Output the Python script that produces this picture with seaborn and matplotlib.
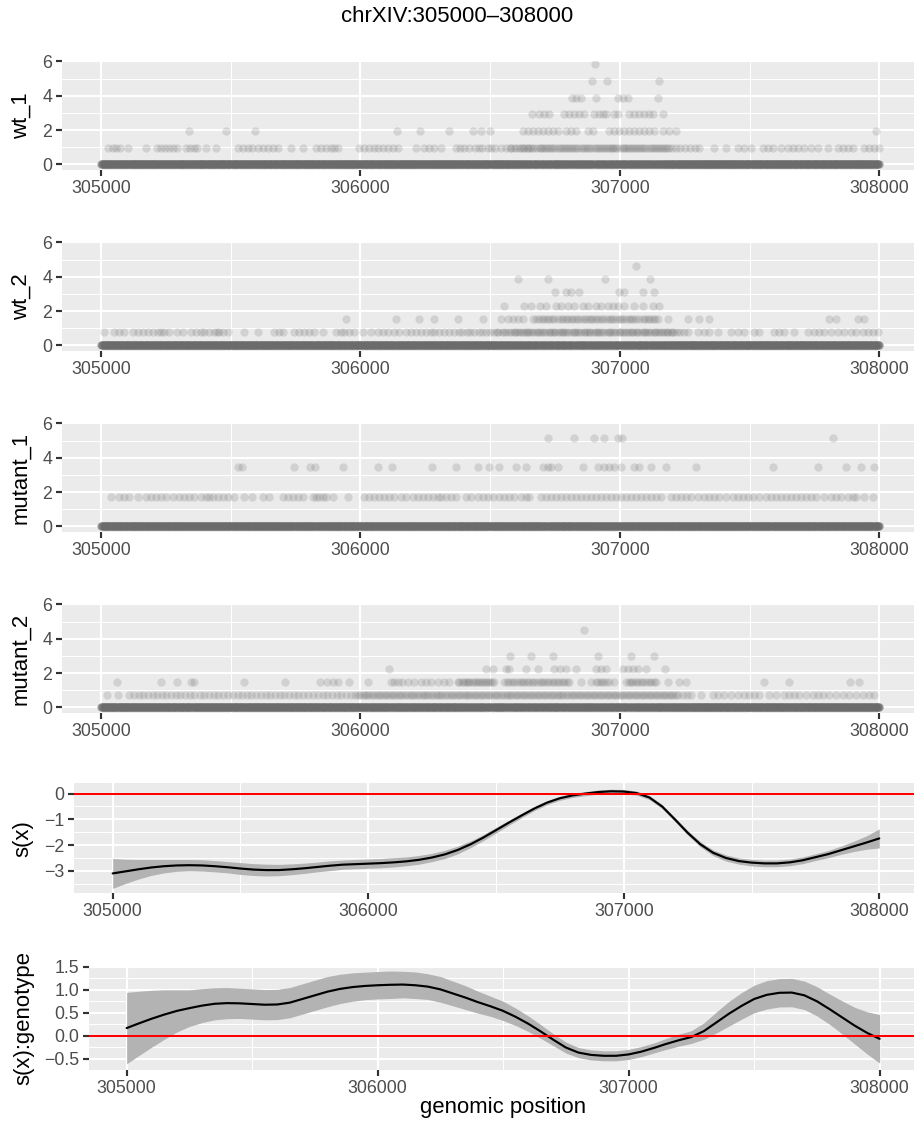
import numpy as np
import pandas as pd
import matplotlib
matplotlib.use("Agg")
import matplotlib.pyplot as plt
import seaborn as sns

# ---------------- data ----------------
region_start, region_end = 305000, 308000
title_text = "chrXIV:305000\u2013308000"
x_ticks = [305000, 306000, 307000, 308000]

# normalised count per read (height of one level)
wt1_scale = 0.97
wt2_scale = 0.775
mut1_scale = 1.72
mut2_scale = 0.754

wt1_lv1 = [305028, 305045, 305060, 305074, 305103, 305173, 305216, 305231, 305248, 305263, 305279, 305295,
           305328, 305344, 305360, 305372, 305405, 305443, 305527, 305546, 305565, 305584, 305604, 305623,
           305642, 305662, 305681, 305732, 305777, 305828, 305848, 305867, 305886, 305899, 305915, 305995,
           306015, 306034, 306051, 306066, 306085, 306105, 306124, 306143, 306214, 306246, 306265, 306285,
           306310, 306368, 306385, 306400, 306420, 306440, 306455, 306470, 306490, 306505, 306520, 306540,
           306560, 306575, 306590, 306610, 306625, 306640, 306655, 306670, 306690, 306705, 306720, 306735,
           306750, 306770, 306785, 306800, 306815, 306830, 306850, 306865, 306880, 306900, 306915, 306930,
           306945, 306960, 306975, 306990, 307010, 307025, 307040, 307055, 307070, 307085, 307100, 307120,
           307135, 307150, 307165, 307180, 307200, 307215, 307230, 307250, 307270, 307290, 307305, 307364,
           307409, 307454, 307479, 307505, 307550, 307569, 307589, 307621, 307646, 307666, 307685, 307711,
           307736, 307762, 307800, 307839, 307858, 307878, 307897, 307942, 307961, 307980, 308000]
wt1_lv1b = [306582, 306598, 306617, 306632, 306647, 306662, 306680, 306697, 306712, 306727, 306742, 306760,
            306777, 306792, 306808, 306822, 306840, 306857, 306872, 306890, 306907, 306922, 306937, 306952,
            306968, 306982, 307000, 307017, 307032, 307047, 307062, 307077, 307092, 307110, 307127, 307142,
            307157, 307172, 307190]
wt1_lv2 = [305340, 305482, 305593, 306141, 306231, 306342, 306432, 306465, 306500, 306625, 306644, 306664,
           306683, 306702, 306722, 306741, 306760, 306792, 306811, 306831, 306876, 306895, 306959, 306978,
           306998, 307017, 307036, 307055, 307075, 307094, 307113, 307133, 307165, 307190, 307216, 307987]
wt1_lv3 = [306661, 306689, 306709, 306728, 306786, 306805, 306824, 306844, 306863, 306901, 306921, 306933,
           306946, 306978, 306991, 307036, 307055, 307075, 307094, 307113, 307126, 307165]
wt1_lv4 = [306814, 306831, 306850, 306908, 306991, 307010, 307030, 307148]
wt1_lv5 = [306891, 306949, 307149]
wt1_lv6 = [306905]

wt2_lv1 = [305013, 305051, 305071, 305090, 305122, 305141, 305161, 305180, 305199, 305218, 305231, 305244,
           305263, 305295, 305315, 305347, 305366, 305385, 305398, 305417, 305437, 305447, 305456, 305469,
           305488, 305552, 305604, 305668, 305687, 305700, 305745, 305764, 305784, 305803, 305822, 305854,
           305906, 305925, 305938, 305957, 305976, 306008, 306040, 306066, 306085, 306105, 306130, 306150,
           306175, 306195, 306214, 306233, 306252, 306272, 306285, 306304, 306323, 306342, 306362, 306378,
           306391, 306410, 306424, 306437, 306455, 306469, 306482, 306500, 306514, 306527, 306545, 306560,
           306572, 306590, 306604, 306619, 306635, 306647, 306662, 306680, 306692, 306707, 306725, 306737,
           306751, 306768, 306782, 306797, 306815, 306827, 306842, 306860, 306872, 306886, 306905, 306917,
           306931, 306950, 306962, 306977, 306995, 307007, 307022, 307040, 307052, 307067, 307085, 307097,
           307112, 307130, 307142, 307157, 307175, 307187, 307202, 307220, 307233, 307248, 307261, 307299,
           307325, 307344, 307377, 307428, 307454, 307479, 307518, 307537, 307595, 307614, 307634, 307672,
           307723, 307749, 307768, 307788, 307813, 307839, 307865, 307890, 307910, 307935, 307955, 307974,
           307993]
wt2_lv1b = [306530, 306552, 306580, 306597, 306612, 306627, 306641, 306655, 306670, 306686, 306700, 306715,
            306731, 306745, 306760, 306775, 306790, 306805, 306821, 306835, 306850, 306866, 306880, 306895,
            306911, 306925, 306940, 306956, 306970, 306985, 307001, 307015, 307030, 307046, 307060, 307075,
            307091, 307105, 307120, 307136, 307150, 307165, 307181, 307195, 307210]
wt2_lv2 = [305944, 306137, 306227, 306285, 306375, 306471, 306542, 306567, 306587, 306606, 306625, 306664,
           306689, 306709, 306728, 306747, 306773, 306792, 306811, 306831, 306850, 306869, 306889, 306908,
           306927, 306946, 306966, 306985, 307004, 307023, 307043, 307062, 307088, 307107, 307126, 307145,
           307184, 307261, 307306, 307344, 307807, 307833, 307916, 307942]
wt2_lv2b = [306676, 306699, 306718, 306737, 306760, 306782, 306801, 306820, 306840, 306860, 306879, 306898,
            306917, 306936, 306956, 306975, 306995, 307013, 307033, 307052, 307075, 307097, 307116, 307136]
wt2_lv3 = [306552, 306632, 306657, 306693, 306715, 306754, 306773, 306799, 306824, 306856, 306876, 306908,
           306927, 306953, 306972, 306991, 307017, 307055, 307088, 307126, 307152]
wt2_lv4 = [306750, 306792, 306811, 306843, 306998, 307017, 307088, 307130]
wt2_lv5 = [306606, 306724, 306944, 307117]
wt2_lv6 = [307063]

mut1_lv1 = [305039, 305071, 305087, 305109, 305141, 305173, 305193, 305212, 305231, 305250, 305276, 305302,
            305321, 305340, 305360, 305385, 305405, 305417, 305430, 305450, 305469, 305488, 305514, 305552,
            305584, 305623, 305649, 305700, 305719, 305739, 305758, 305777, 305816, 305829, 305841, 305854,
            305867, 305893, 305951, 306015, 306034, 306053, 306073, 306092, 306111, 306130, 306156, 306175,
            306201, 306220, 306240, 306259, 306278, 306297, 306310, 306329, 306349, 306368, 306407, 306426,
            306452, 306471, 306490, 306510, 306535, 306555, 306574, 306593, 306619, 306638, 306651, 306696,
            306715, 306734, 306754, 306773, 306792, 306811, 306831, 306850, 306869, 306888, 306908, 306927,
            306946, 306966, 306985, 307004, 307023, 307043, 307062, 307081, 307100, 307120, 307139, 307158,
            307197, 307216, 307235, 307255, 307274, 307300, 307325, 307345, 307364, 307383, 307409, 307434,
            307454, 307473, 307492, 307511, 307537, 307563, 307582, 307601, 307621, 307640, 307659, 307678,
            307698, 307717, 307736, 307756, 307788, 307813, 307833, 307852, 307878, 307897, 307910, 307942,
            307974]
mut1_lv2 = [305529, 305542, 305745, 305807, 305825, 305931, 306066, 306120, 306276, 306368, 306452, 306497,
            306535, 306599, 306638, 306702, 306722, 306734, 306760, 306856, 306914, 306940, 306959, 306978,
            307004, 307055, 307075, 307120, 307177, 307293, 307589, 307762, 307871, 307929, 307980]
mut1_lv3 = [306724, 306822, 306899, 306940, 306991, 307007, 307822]

mut2_lv1 = [305023, 305064, 305109, 305126, 305145, 305161, 305180, 305199, 305215, 305234, 305250, 305270,
            305289, 305305, 305323, 305342, 305360, 305380, 305396, 305416, 305435, 305450, 305469, 305488,
            305507, 305527, 305543, 305561, 305580, 305598, 305617, 305636, 305652, 305671, 305690, 305707,
            305726, 305745, 305760, 305780, 305799, 305816, 305835, 305854, 305870, 305889, 305908, 305925,
            305944, 305963, 305980, 305999, 306018, 306034, 306053, 306072, 306089, 306108, 306127, 306143,
            306162, 306181, 306198, 306217, 306236, 306252, 306271, 306290, 306307, 306326, 306345, 306362,
            306380, 306398, 306415, 306433, 306451, 306468, 306487, 306505, 306522, 306540, 306559, 306576,
            306594, 306612, 306630, 306648, 306666, 306684, 306702, 306720, 306737, 306756, 306774, 306791,
            306810, 306828, 306846, 306864, 306882, 306900, 306918, 306935, 306954, 306972, 306990, 307008,
            307026, 307044, 307062, 307080, 307098, 307116, 307134, 307152, 307170, 307188, 307206, 307224,
            307242, 307258, 307274, 307312, 307357, 307377, 307402, 307428, 307454, 307479, 307499, 307518,
            307537, 307576, 307601, 307634, 307653, 307672, 307691, 307717, 307743, 307762, 307781, 307807,
            307833, 307858, 307884, 307910, 307935, 307961, 307980]
mut2_lv1b = [305990, 306009, 306026, 306044, 306063, 306080, 306098, 306117, 306135, 306153, 306171, 306190,
             306208, 306226, 306244, 306262, 306280, 306298, 306316, 306335, 306353, 306371, 306389, 306406,
             306424, 306442, 306460, 306478, 306496, 306514, 306531, 306549, 306567, 306585, 306603, 306621,
             306639, 306657, 306675, 306693, 306711, 306729, 306747, 306765, 306782, 306800, 306819, 306837,
             306855, 306873, 306891, 306909, 306927, 306945, 306963, 306981, 306999, 307017, 307035, 307053,
             307071, 307089, 307107, 307125, 307143, 307161, 307179, 307197, 307215]
mut2_lv2 = [305062, 305231, 305295, 305347, 305357, 305552, 305709, 305845, 305873, 305893, 305912, 305957,
            306028, 306118, 306130, 306143, 306162, 306182, 306208, 306233, 306252, 306272, 306297, 306323,
            306342, 306374, 306390, 306405, 306420, 306437, 306452, 306468, 306485, 306500, 306516, 306555,
            306574, 306593, 306613, 306632, 306651, 306670, 306690, 306709, 306728, 306747, 306766, 306786,
            306805, 306850, 306889, 306908, 306927, 306946, 306978, 307023, 307043, 307062, 307081, 307100,
            307120, 307139, 307184, 307229, 307255, 307556, 307650, 307887, 307923]
mut2_lv2b = [306380, 306398, 306413, 306428, 306445, 306460, 306476, 306492, 306508, 306565, 306583, 306603,
             306622, 306641, 306660, 306680, 306700, 306718, 306737, 306756, 306776, 306795, 306917, 306936,
             306956, 307033, 307052, 307071, 307090, 307110, 307130]
mut2_lv3 = [306111, 306484, 306510, 306561, 306574, 306638, 306686, 306747, 306770, 306792, 306831, 306908,
            306927, 306946, 307010, 307030, 307049, 307068, 307100, 307174]
mut2_lv4 = [306578, 306657, 306741, 306914, 307043, 307130]
mut2_lv6 = [306860]

# smooth terms (fit and half-width of the confidence band)
smooth_pos = [305000, 305050, 305100, 305150, 305200, 305250, 305300, 305350, 305400, 305450, 305500,
              305550, 305600, 305650, 305700, 305750, 305800, 305850, 305900, 305950, 306000, 306050,
              306100, 306150, 306200, 306250, 306300, 306350, 306400, 306450, 306500, 306550, 306600,
              306650, 306700, 306750, 306800, 306850, 306900, 306950, 307000, 307050, 307100, 307150,
              307200, 307250, 307300, 307350, 307400, 307450, 307500, 307550, 307600, 307650, 307700,
              307750, 307800, 307850, 307900, 307950, 308000]
sx_fit = [-3.10, -3.02, -2.94, -2.87, -2.82, -2.79, -2.78, -2.79, -2.82, -2.86, -2.91, -2.95, -2.97,
          -2.97, -2.94, -2.90, -2.85, -2.80, -2.76, -2.74, -2.72, -2.70, -2.67, -2.63, -2.57, -2.48,
          -2.36, -2.19, -1.97, -1.71, -1.42, -1.13, -0.85, -0.58, -0.35, -0.18, -0.07, 0.00, 0.06, 0.09,
          0.08, 0.02, -0.15, -0.50, -1.00, -1.52, -1.97, -2.30, -2.50, -2.62, -2.68, -2.71, -2.71, -2.67,
          -2.59, -2.47, -2.35, -2.20, -2.05, -1.90, -1.74]
sx_se = [0.58, 0.47, 0.38, 0.31, 0.26, 0.23, 0.22, 0.22, 0.22, 0.22, 0.23, 0.23, 0.23, 0.22, 0.21, 0.20,
         0.19, 0.19, 0.18, 0.18, 0.18, 0.18, 0.18, 0.17, 0.17, 0.16, 0.16, 0.15, 0.13, 0.12, 0.11, 0.10,
         0.09, 0.08, 0.08, 0.08, 0.08, 0.08, 0.08, 0.08, 0.08, 0.08, 0.08, 0.08, 0.08, 0.09, 0.10, 0.11,
         0.12, 0.12, 0.13, 0.13, 0.13, 0.13, 0.13, 0.13, 0.14, 0.16, 0.20, 0.26, 0.37]
gx_fit = [0.165, 0.27, 0.37, 0.46, 0.54, 0.60, 0.655, 0.695, 0.71, 0.705, 0.69, 0.675, 0.68, 0.72, 0.80,
          0.88, 0.96, 1.02, 1.06, 1.085, 1.10, 1.11, 1.115, 1.10, 1.07, 1.01, 0.92, 0.83, 0.73, 0.64, 0.54,
          0.41, 0.26, 0.09, -0.09, -0.26, -0.37, -0.42, -0.44, -0.44, -0.41, -0.35, -0.27, -0.18, -0.10,
          -0.03, 0.10, 0.29, 0.48, 0.65, 0.80, 0.89, 0.935, 0.94, 0.88, 0.75, 0.58, 0.40, 0.22, 0.06,
          -0.07]
gx_se = [0.78, 0.70, 0.62, 0.54, 0.46, 0.40, 0.37, 0.35, 0.34, 0.33, 0.33, 0.33, 0.33, 0.33, 0.33, 0.33,
         0.33, 0.32, 0.31, 0.30, 0.30, 0.30, 0.29, 0.29, 0.28, 0.28, 0.27, 0.26, 0.24, 0.22, 0.21, 0.19,
         0.17, 0.15, 0.13, 0.12, 0.11, 0.11, 0.11, 0.11, 0.11, 0.11, 0.11, 0.12, 0.13, 0.14, 0.18, 0.23,
         0.27, 0.29, 0.30, 0.31, 0.31, 0.31, 0.31, 0.32, 0.33, 0.36, 0.40, 0.46, 0.53]

# ---------------- figure ----------------
sns.set_theme(style="darkgrid")
plt.rcParams["font.family"] = ["Liberation Sans", "DejaVu Sans"]
plt.rcParams["axes.unicode_minus"] = True

W, H, DPI = 914, 1124, 145
fig = plt.figure(figsize=(W / DPI, H / DPI), dpi=DPI)
fig.patch.set_facecolor("white")


def rect(left, right, top, bottom):
    return [left / W, 1 - bottom / H, (right - left) / W, (bottom - top) / H]


def style(ax, yticks, ylim, yminor, fmt):
    ax.set_facecolor("#EBEBEB")
    for s in ax.spines.values():
        s.set_visible(False)
    ax.set_xlim(304850, 308150)
    ax.set_ylim(*ylim)
    ax.set_xticks(x_ticks)
    ax.set_xticklabels([str(t) for t in x_ticks])
    ax.set_xticks([305500, 306500, 307500], minor=True)
    ax.set_yticks(yticks)
    ax.set_yticklabels([fmt(t) for t in yticks])
    ax.set_yticks(yminor, minor=True)
    ax.grid(which="major", color="white", linewidth=1.07)
    ax.grid(which="minor", color="white", linewidth=0.53)
    ax.set_axisbelow(True)
    ax.tick_params(which="major", length=2.75, width=1.07, color="#333333",
                   labelsize=8.8, labelcolor="#4D4D4D", pad=2.2,
                   bottom=True, left=True)
    ax.tick_params(which="minor", length=0)
    ax.set_xlabel("")
    ax.set_ylabel("")


def minus(s):
    return s.replace("-", "\u2212")


point_color = "#6B6B6B"
scatter_specs = [
    ("wt_1", wt1_scale, [(1, wt1_lv1), (1, wt1_lv1b), (2, wt1_lv2), (3, wt1_lv3), (4, wt1_lv4),
                         (5, wt1_lv5), (6, wt1_lv6)], (61, 170)),
    ("wt_2", wt2_scale, [(1, wt2_lv1), (1, wt2_lv1b), (2, wt2_lv2), (2, wt2_lv2b), (3, wt2_lv3),
                         (4, wt2_lv4), (5, wt2_lv5), (6, wt2_lv6)], (242, 351)),
    ("mutant_1", mut1_scale, [(1, mut1_lv1), (2, mut1_lv2), (3, mut1_lv3)], (423, 532)),
    ("mutant_2", mut2_scale, [(1, mut2_lv1), (1, mut2_lv1b), (2, mut2_lv2), (2, mut2_lv2b), (3, mut2_lv3),
                              (4, mut2_lv4), (6, mut2_lv6)], (604, 713)),
]

all_positions = np.arange(region_start, region_end + 1)

for name, scale, levels, (top, bottom) in scatter_specs:
    ax = fig.add_axes(rect(62, 918.4, top, bottom))
    nonzero = set()
    rows = []
    for lv, plist in levels:
        for p in plist:
            rows.append((p, lv * scale))
            nonzero.add(p)
    zero_pos = [p for p in all_positions if p not in nonzero]
    df = pd.DataFrame({"pos": list(zero_pos) + [r[0] for r in rows],
                       "val": [0.0] * len(zero_pos) + [r[1] for r in rows]})
    sns.scatterplot(data=df, x="pos", y="val", ax=ax, color=point_color, alpha=0.2,
                    s=17, linewidth=0, legend=False)
    style(ax, [0, 2, 4, 6], (-0.32, 6.02), [1, 3, 5], lambda t: str(t))
    fig.text(21 / W, 1 - ((top + bottom) / 2) / H, name, rotation=90, ha="center", va="center",
             fontsize=11, color="black")

sm = pd.DataFrame({"pos": smooth_pos, "sx": sx_fit, "sx_se": sx_se, "gx": gx_fit, "gx_se": gx_se})

# s(x) panel
ax5 = fig.add_axes(rect(74.4, 917.6, 783.3, 893))
ax5.fill_between(sm["pos"], sm["sx"] - sm["sx_se"], sm["sx"] + sm["sx_se"], color="#B3B3B3",
                 linewidth=0, zorder=2)
sns.lineplot(data=sm, x="pos", y="sx", ax=ax5, color="black", linewidth=1.07, estimator=None,
             sort=False, zorder=3)
ax5.axhline(0, color="red", linewidth=1.0, zorder=4)
style(ax5, [0, -1, -2, -3], (-3.86, 0.40), [-0.5, -1.5, -2.5, -3.5], lambda t: minus(str(t)))
fig.text(23 / W, 1 - ((783.3 + 893) / 2) / H, "s(x)", rotation=90, ha="center", va="center",
         fontsize=11, color="black")

# s(x):genotype panel
ax6 = fig.add_axes(rect(89, 917.3, 966, 1070))
ax6.fill_between(sm["pos"], sm["gx"] - sm["gx_se"], sm["gx"] + sm["gx_se"], color="#B3B3B3",
                 linewidth=0, zorder=2)
sns.lineplot(data=sm, x="pos", y="gx", ax=ax6, color="black", linewidth=1.07, estimator=None,
             sort=False, zorder=3)
ax6.axhline(0, color="red", linewidth=1.0, zorder=4)
style(ax6, [-0.5, 0.0, 0.5, 1.0, 1.5], (-0.75, 1.52), [-0.25, 0.25, 0.75, 1.25],
      lambda t: minus(f"{t:.1f}"))
fig.text(24 / W, 1 - ((966 + 1070) / 2) / H, "s(x):genotype", rotation=90, ha="center", va="center",
         fontsize=11, color="black")

fig.text(503 / W, 1 - 1107 / H, "genomic position", ha="center", va="center", fontsize=11, color="black")
fig.text(457 / W, 1 - 16 / H, title_text, ha="center", va="center", fontsize=11, color="black")

fig.savefig("out.png", dpi=DPI, facecolor="white")
